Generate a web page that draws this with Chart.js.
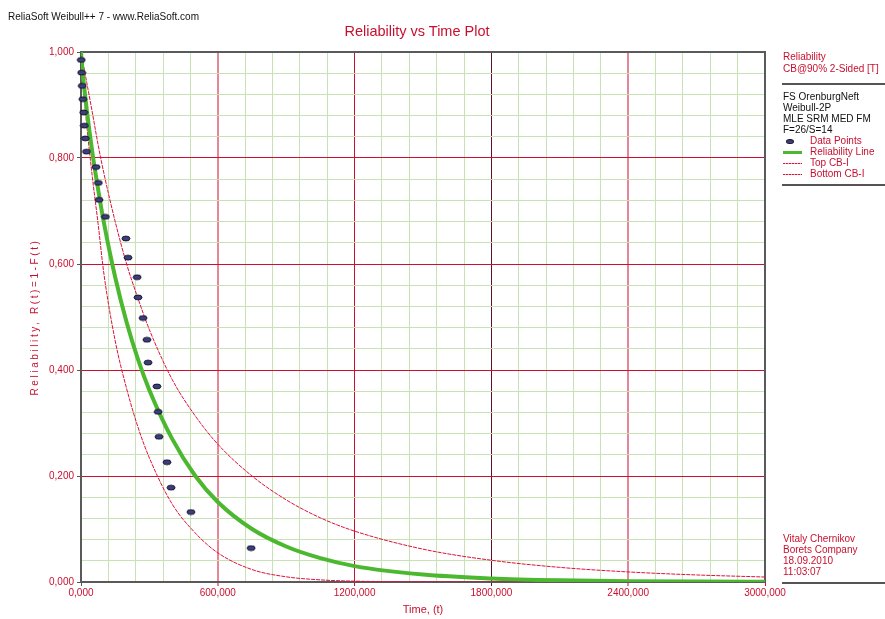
<!DOCTYPE html>
<html><head><meta charset="utf-8">
<script src="https://cdn.jsdelivr.net/npm/chart.js@4.4.1/dist/chart.umd.min.js"></script>
<style>
html,body{margin:0;padding:0;background:#fff;}
#wrap{position:relative;width:885px;height:619px;overflow:hidden;font-family:"Liberation Sans",Arial,sans-serif;}
#c{position:absolute;left:0;top:0;}
.t{position:absolute;white-space:nowrap;font-size:10px;line-height:12px;}
.red{color:#c8102e;}
.blk{color:#111;}
.hr{position:absolute;height:2px;background:#555;left:782px;width:103px;}
</style></head><body>
<div id="wrap">
<canvas id="c" width="885" height="619"></canvas>
<div class="t blk" style="left:8px;top:11px;">ReliaSoft Weibull++ 7 - www.ReliaSoft.com</div>
<div class="t red" style="left:0;width:834px;text-align:center;top:22px;font-size:14.5px;line-height:18px;">Reliability vs Time Plot</div>

<div class="t red" style="left:783px;top:51px;">Reliability</div>
<div class="t red" style="left:783px;top:63px;">CB@90% 2-Sided [T]</div>
<div class="hr" style="top:83px;"></div>
<div class="t blk" style="left:783px;top:91px;">FS OrenburgNeft</div>
<div class="t blk" style="left:783px;top:102px;">Weibull-2P</div>
<div class="t blk" style="left:783px;top:113px;">MLE SRM MED FM</div>
<div class="t blk" style="left:783px;top:124px;">F=26/S=14</div>
<div style="position:absolute;left:786px;top:139px;width:8px;height:5px;box-sizing:border-box;border-radius:50%;background:#3d3d80;border:1px solid #15152a;"></div>
<div class="t red" style="left:810px;top:135px;">Data Points</div>
<div style="position:absolute;left:783px;top:151px;width:19px;height:3px;background:#4cb830;"></div>
<div class="t red" style="left:810px;top:146px;">Reliability Line</div>
<div style="position:absolute;left:783px;top:163px;width:19px;height:1px;background:repeating-linear-gradient(90deg,#e0103a 0 2px,#f4a0b0 2px 3px);"></div>
<div class="t red" style="left:810px;top:157px;">Top CB-I</div>
<div style="position:absolute;left:783px;top:174px;width:19px;height:1px;background:repeating-linear-gradient(90deg,#e0103a 0 2px,#f4a0b0 2px 3px);"></div>
<div class="t red" style="left:810px;top:168px;">Bottom CB-I</div>
<div class="hr" style="top:184px;"></div>

<div class="t red" style="left:783px;top:533px;">Vitaly Chernikov</div>
<div class="t red" style="left:783px;top:544px;">Borets Company</div>
<div class="t red" style="left:783px;top:555px;">18.09.2010</div>
<div class="t red" style="left:783px;top:566px;">11:03:07</div>
<div class="hr" style="top:582px;"></div>
</div>
<script>
// ---- data ----
const dataTimes = [1, 3, 5, 8, 12, 15, 19, 24, 66, 76, 79, 107, 197, 206, 246, 250, 272, 289, 294, 333, 338, 342, 377, 395, 482, 746];
const dataReliability = [0.985, 0.961, 0.936, 0.911, 0.886, 0.861, 0.837, 0.812, 0.783, 0.753, 0.721, 0.689, 0.648, 0.612, 0.575, 0.537, 0.498, 0.457, 0.414, 0.369, 0.321, 0.274, 0.226, 0.178, 0.132, 0.064];

const curveTimes = [0, 2, 5, 10, 25, 50, 75, 100, 150, 200, 250, 300, 400, 500, 600, 750, 900, 1050, 1200, 1500, 1800, 2100, 2400, 2700, 3000];
const reliabilityLine = [1, 0.988, 0.973, 0.950, 0.892, 0.810, 0.741, 0.679, 0.575, 0.490, 0.420, 0.362, 0.270, 0.201, 0.151, 0.100, 0.067, 0.045, 0.030, 0.014, 0.0068, 0.0033, 0.0016, 0.0008, 0.0004];
const topCB = [1, 0.996, 0.989, 0.977, 0.943, 0.885, 0.825, 0.772, 0.680, 0.600, 0.535, 0.476, 0.382, 0.314, 0.260, 0.200, 0.155, 0.121, 0.096, 0.062, 0.041, 0.0276, 0.019, 0.0133, 0.0094];
const bottomCB = [1, 0.985, 0.966, 0.937, 0.863, 0.763, 0.676, 0.583, 0.455, 0.365, 0.292, 0.234, 0.147, 0.093, 0.055, 0.0235, 0.0098, 0.004, 0.0016, 0.0003, 0, 0, 0, 0, 0];

const xTickLabels = ["0,000", "600,000", "1200,000", "1800,000", "2400,000", "3000,000"];
const yTickLabels = ["0,000", "0,200", "0,400", "0,600", "0,800", "1,000"];

const RED = '#c8102e';
const GRID_RED = '#cc1030';
const GRID_PINK = 'rgba(204,16,48,0.5)';
const GRID_DARK = '#5a1420';
const GRID_GREEN = '#c8e2b6';
const FONT = '"Liberation Sans", Arial, sans-serif';

function xMajorColor(v) {
  if (v === 1800) return GRID_DARK;
  if (v === 600 || v === 2400) return GRID_PINK;
  return GRID_RED;
}

function ellipseMarker() {
  const c = document.createElement('canvas');
  c.width = 10; c.height = 7;
  const g = c.getContext('2d');
  g.beginPath();
  g.ellipse(5, 3.5, 4, 2.4, 0, 0, Math.PI * 2);
  g.fillStyle = '#3d3d80';
  g.fill();
  g.lineWidth = 1;
  g.strokeStyle = '#15152a';
  g.stroke();
  return c;
}

const framePlugin = {
  id: 'frame',
  beforeDatasetsDraw(chart) {
    const {ctx, chartArea: a} = chart;
    ctx.save();
    ctx.strokeStyle = '#5a5a5a';
    ctx.lineWidth = 2;
    ctx.strokeRect(a.left, a.top, a.right - a.left, a.bottom - a.top);
    ctx.restore();
  }
};
const yTitlePlugin = {
  id: 'ytitle',
  afterDraw(chart) {
    const {ctx, chartArea: a} = chart;
    ctx.save();
    ctx.translate(35, (a.top + a.bottom) / 2);
    ctx.rotate(-Math.PI / 2);
    ctx.font = '10px ' + FONT;
    try { ctx.letterSpacing = '2.6px'; } catch (e) {}
    ctx.fillStyle = RED;
    ctx.textAlign = 'center';
    ctx.textBaseline = 'middle';
    ctx.fillText('Reliability, R(t)=1-F(t)', 0, 0);
    ctx.restore();
  }
};

const pts = (xs, ys) => xs.map((x, i) => ({x: x, y: ys[i]}));

new Chart(document.getElementById('c'), {
  type: 'line',
  data: {
    datasets: [
      {label: 'Data Points', data: pts(dataTimes, dataReliability), showLine: false,
       pointStyle: ellipseMarker(), pointRadius: 4, order: 0, clip: false},
      {label: 'Reliability Line', data: pts(curveTimes, reliabilityLine), borderColor: '#4cb830',
       borderWidth: 4, pointRadius: 0, cubicInterpolationMode: 'monotone', order: 1},
      {label: 'Top CB-I', data: pts(curveTimes, topCB), borderColor: '#e0103a', borderWidth: 1,
       borderDash: [4, 1], pointRadius: 0, cubicInterpolationMode: 'monotone', order: 2},
      {label: 'Bottom CB-I', data: pts(curveTimes, bottomCB), borderColor: '#e0103a', borderWidth: 1,
       borderDash: [4, 1], pointRadius: 0, cubicInterpolationMode: 'monotone', order: 3}
    ]
  },
  options: {
    responsive: false,
    animation: false,
    events: [],
    layout: {padding: {left: 0, top: 52, right: 120, bottom: 0}},
    plugins: {legend: {display: false}, tooltip: {enabled: false}, title: {display: false}},
    scales: {
      x: {
        type: 'linear', min: 0, max: 3000,
        afterFit(s) { s.height = 37; s.paddingLeft = 0; s.paddingRight = 0; },
        ticks: {
          stepSize: 120, maxTicksLimit: 26, autoSkip: false, maxRotation: 0, minRotation: 0,
          color: RED, font: {family: FONT, size: 10}, padding: 1,
          callback: (v) => (v % 600 === 0 ? xTickLabels[v / 600] : '')
        },
        grid: {
          tickLength: 4,
          lineWidth: (c) => { const v = c.tick ? c.tick.value : 0; return (v === 600 || v === 2400) ? 2 : 1; },
          color: (c) => { const v = c.tick ? c.tick.value : 0; return v % 600 === 0 ? xMajorColor(v) : GRID_GREEN; },
          tickColor: (c) => { const v = c.tick ? c.tick.value : 0; return v % 600 === 0 ? (v === 0 ? '#555' : xMajorColor(v)) : 'rgba(0,0,0,0)'; }
        },
        border: {display: false},
        title: {display: true, text: 'Time, (t)', color: RED, font: {family: FONT, size: 11}, padding: {top: 0, bottom: 2}}
      },
      y: {
        type: 'linear', min: 0, max: 1,
        afterFit(s) { s.width = 81; s.paddingTop = 0; s.paddingBottom = 0; },
        ticks: {
          stepSize: 0.04, maxTicksLimit: 26, autoSkip: false,
          color: RED, font: {family: FONT, size: 10}, padding: 3,
          callback: (v) => { const k = Math.round(v * 1000); return k % 200 === 0 ? yTickLabels[k / 200] : ''; }
        },
        grid: {
          lineWidth: 1, tickLength: 4,
          color: (c) => { const k = Math.round((c.tick ? c.tick.value : 0) * 1000); return k % 200 === 0 ? GRID_RED : GRID_GREEN; },
          tickColor: (c) => { const k = Math.round((c.tick ? c.tick.value : 0) * 1000); return k % 200 === 0 ? '#555' : 'rgba(0,0,0,0)'; }
        },
        border: {display: false}
      }
    }
  },
  plugins: [framePlugin, yTitlePlugin]
});
</script>
</body></html>
